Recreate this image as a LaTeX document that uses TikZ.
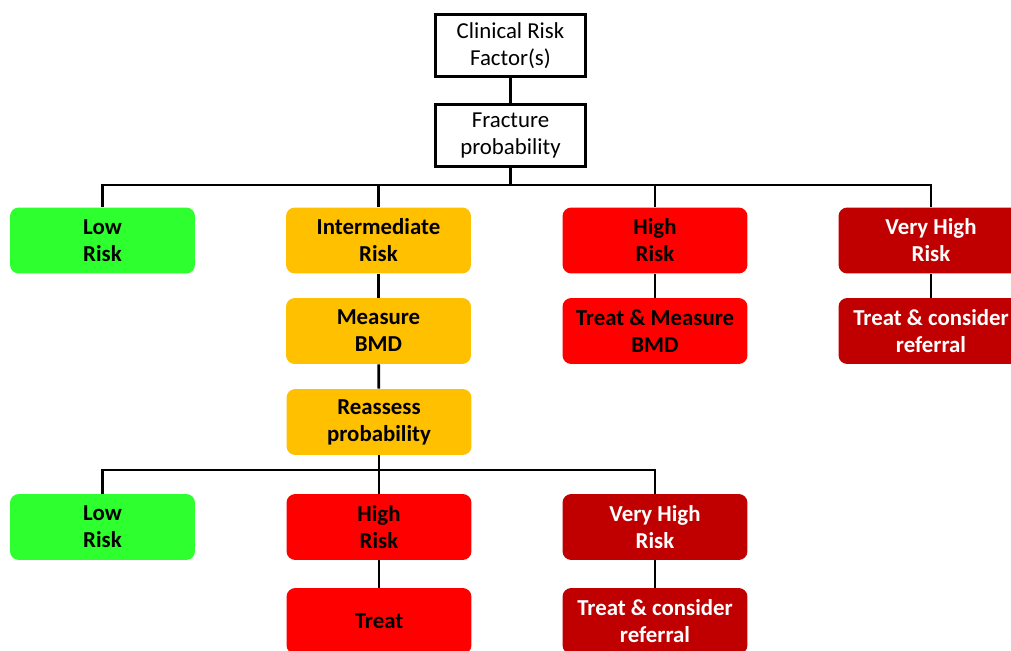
\documentclass[tikz,border=0pt]{standalone}
\usepackage{fontspec}
\setmainfont{Carlito}
\usepackage{tikz}
\definecolor{lowgreen}{HTML}{2EFF2E}
\definecolor{midorange}{HTML}{FFC000}
\definecolor{highred}{HTML}{FF0000}
\definecolor{vhighred}{HTML}{C00000}
\tikzset{
  plainbox/.style={draw,line width=1.6pt,minimum width=2.99cm,minimum height=1.24cm,align=center,font=\fontsize{13}{15.4}\selectfont,inner sep=0pt},
  riskbox/.style={rounded corners=5pt,minimum width=3.7cm,minimum height=1.32cm,align=center,font=\fontsize{13}{15.4}\selectfont\bfseries,inner sep=0pt},
  lowbox/.style={riskbox,fill=lowgreen},
  midbox/.style={riskbox,fill=midorange},
  highbox/.style={riskbox,fill=highred},
  vhighbox/.style={riskbox,fill=vhighred,text=white},
  link/.style={line width=1.5pt}
}
\begin{document}
\begin{tikzpicture}[x=0.02cm,y=-0.02cm]
  \useasboundingbox (0,0) rectangle (1011,651);
  \clip (0,0) rectangle (1011,651);

  % top of the tree
  \node[plainbox](crf) at (510.5,45.5) {Clinical Risk\\Factor(s)};
  \node[plainbox](frac) at (510.5,135.5) {Fracture\\probability};
  \draw[link] (crf) -- (frac);

  % first level
  \node[lowbox](low1) at (102.5,240.5) {Low\\Risk};
  \node[midbox](mid1) at (378.5,240.5) {Intermediate\\Risk};
  \node[highbox](high1) at (655,240.5) {High\\Risk};
  \node[vhighbox](vhigh1) at (931,240.5) {Very High\\Risk};

  \coordinate (bus1) at (510.5,185);
  \draw[link] (frac) -- (bus1);
  \draw[link] (low1.north) |- (bus1) -| (vhigh1.north);
  \draw[link] (mid1.north) -- (mid1.north |- bus1);
  \draw[link] (high1.north) -- (high1.north |- bus1);

  \node[midbox](bmd) at (378.5,331) {Measure\\BMD};
  \node[midbox](reass) at (379,422) {Reassess\\probability};
  \node[highbox](treatbmd) at (655,331) {Treat \& Measure\\BMD};
  \node[vhighbox](refer1) at (931,331) {Treat \& consider\\referral};
  \draw[link] (mid1) -- (bmd);
  \draw[link] (bmd) -- (reass);
  \draw[link] (high1) -- (treatbmd);
  \draw[link] (vhigh1) -- (refer1);

  % after reassessment
  \node[lowbox](low2) at (102.5,527) {Low\\Risk};
  \node[highbox](high2) at (379,527) {High\\Risk};
  \node[vhighbox](vhigh2) at (655,527) {Very High\\Risk};
  \node[highbox](treat) at (379,621) {Treat};
  \node[vhighbox](refer2) at (655,621) {Treat \& consider\\referral};

  \coordinate (bus2) at (379,470);
  \draw[link] (reass) -- (high2);
  \draw[link] (low2.north) |- (bus2) -| (vhigh2.north);
  \draw[link] (high2) -- (treat);
  \draw[link] (vhigh2) -- (refer2);
\end{tikzpicture}
\end{document}
